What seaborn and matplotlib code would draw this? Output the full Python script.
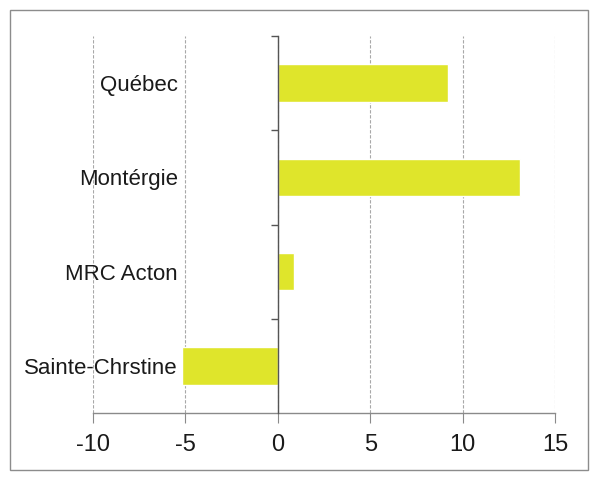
import matplotlib
matplotlib.use("Agg")
import matplotlib.pyplot as plt
import seaborn as sns
import pandas as pd
from matplotlib.patches import Rectangle
from matplotlib.ticker import FixedLocator

categories = ["Québec", "Montérgie", "MRC Acton", "Sainte-Chrstine"]
values = [9.2, 13.1, 0.9, -5.2]
xticks = [-10, -5, 0, 5, 10, 15]

sns.set_style("white")
plt.rcParams['font.family'] = ['Liberation Sans Narrow', 'Liberation Sans', 'DejaVu Sans']

df = pd.DataFrame({"cat": categories, "val": values})

fig = plt.figure(figsize=(5.92, 4.78), dpi=100)
ax = fig.add_axes([93/592, 1-413/478, (555-93)/592, (413-36)/478])

sns.barplot(data=df, x="val", y="cat", orient="h", color="#dfe52b",
            saturation=1, width=0.4, ax=ax, zorder=3)

ax.set_xlim(-10, 15)
ax.set_ylim(3.5, -0.5)
ax.set_xticks(xticks)
ax.set_xticklabels([str(t) for t in xticks])
ax.set_xlabel("")
ax.set_ylabel("")

ax.grid(axis="x", color="#a8a8a8", linestyle=(0, (3, 1.5)), linewidth=0.8, zorder=0)
ax.grid(axis="y", visible=False)

for s in ["top", "right"]:
    ax.spines[s].set_visible(False)
ax.spines["left"].set_position(("data", 0))
ax.spines["left"].set_color("#555555")
ax.spines["left"].set_linewidth(1.0)
ax.spines["left"].set_zorder(4)
ax.spines["bottom"].set_color("#8a8a8a")
ax.spines["bottom"].set_linewidth(1.0)

ax.yaxis.set_minor_locator(FixedLocator([-0.5, 0.5, 1.5, 2.5]))
ax.tick_params(axis="y", which="major", length=0, pad=72, labelsize=16, labelcolor="#1a1a1a")
ax.tick_params(axis="y", which="minor", length=5, width=1, color="#555555", left=True)
ax.tick_params(axis="x", which="major", length=7, width=0.8, color="#8a8a8a",
               bottom=True, direction="out", pad=8, labelsize=17, labelcolor="#1a1a1a")

fig.patches.append(Rectangle((10/592, 1-470/478), (588-10)/592, (470-10)/478,
                             transform=fig.transFigure, fill=False,
                             edgecolor="#8c8c8c", linewidth=1.0))

fig.savefig("out.png", dpi=100)
